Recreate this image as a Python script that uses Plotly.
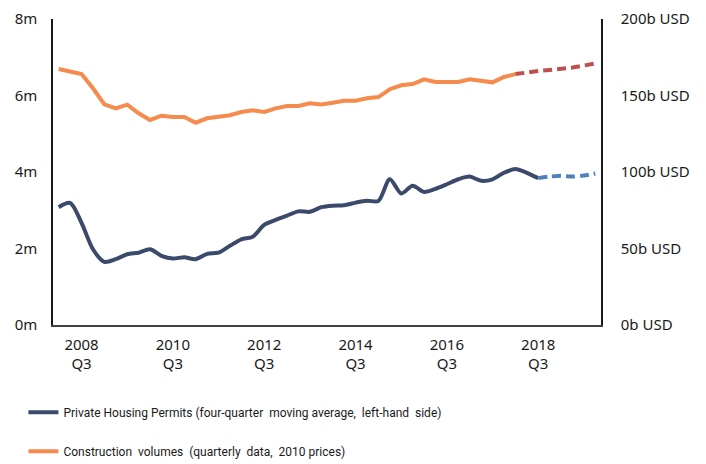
import plotly.graph_objects as go

# quarters 2008 Q1 .. 2019 Q4
quarters = [f"{y} Q{q}" for y in range(2008, 2020) for q in range(1, 5)]
tick_vals = [f"{y} Q3" for y in range(2008, 2019, 2)]
tick_text = [f"{y}<br>Q3" for y in range(2008, 2019, 2)]

# private housing permits, m (four-quarter moving average)
permits = [3.08, 3.19, 2.67, 1.98, 1.65, 1.72, 1.85, 1.89, 1.98, 1.81,
           1.74, 1.77, 1.72, 1.86, 1.89, 2.07, 2.24, 2.31, 2.62, 2.75,
           2.86, 2.97, 2.96, 3.08, 3.12, 3.13, 3.20, 3.25, 3.24, 3.81,
           3.44, 3.64, 3.48, 3.56, 3.68, 3.81, 3.88, 3.77, 3.81, 3.98,
           4.08, 3.98, 3.84]
permits_fc = [3.84, 3.88, 3.90, 3.88, 3.91, 3.96]

# construction volumes, b USD (2010 prices)
construction = [167.3, 165.7, 164.0, 154.7, 144.2, 141.6, 144.0, 138.4, 134.0, 136.8,
                136.0, 136.0, 132.2, 135.1, 136.0, 137.1, 139.2, 140.3, 139.2, 141.6,
                143.1, 143.1, 144.9, 144.2, 145.3, 146.6, 146.6, 148.2, 149.0, 154.1,
                156.7, 157.5, 160.6, 158.8, 158.8, 158.8, 160.6, 159.5, 158.6, 162.1,
                164.0]
construction_fc = [164.0, 165.2, 166.0, 166.7, 167.3, 168.3, 169.6, 170.9]

NAVY = "#3b4a6b"
ORANGE = "#f58b4c"
FONT = "Noto Sans"

fig = go.Figure()

fig.add_trace(go.Scatter(
    x=quarters[:len(permits)], y=permits, mode="lines",
    line=dict(color=NAVY, width=4, shape="spline", smoothing=0.8),
    name="Private Housing Permits (four-quarter  moving average,  left-hand  side)",
    legendgroup="a",
))
fig.add_trace(go.Scatter(
    x=quarters[len(permits) - 1:], y=permits_fc, mode="lines",
    line=dict(color="#4f81bd", width=4, dash="9px,5px", shape="spline", smoothing=0.8),
    showlegend=False,
))
fig.add_trace(go.Scatter(
    x=quarters[:len(construction)], y=construction, mode="lines", yaxis="y2",
    line=dict(color=ORANGE, width=4),
    name="Construction  volumes  (quarterly  data,  2010 prices)",
    legendgroup="b",
))
fig.add_trace(go.Scatter(
    x=quarters[len(construction) - 1:], y=construction_fc, mode="lines", yaxis="y2",
    line=dict(color="#c0504d", width=4, dash="9px,5px"),
    showlegend=False,
))

# page body has an 8px margin, so the figure is sized to fit the window
fig.update_layout(
    width=698, height=456,
    margin=dict(l=45, r=105, t=11, b=139, autoexpand=False),
    paper_bgcolor="white", plot_bgcolor="white",
    font=dict(family=FONT, size=15, color="#1a1a1a"),
    showlegend=True,
    legend=dict(
        x=-0.054, xanchor="left", y=-0.238, yanchor="top",
        traceorder="grouped", tracegroupgap=20,
        font=dict(family="Roboto", size=12),
        itemwidth=30,
    ),
    xaxis=dict(
        type="category", categoryorder="array", categoryarray=quarters,
        range=[-0.5, len(quarters) - 0.5],
        tickmode="array", tickvals=tick_vals, ticktext=tick_text,
        showline=True, linecolor="#404040", linewidth=1.5,
        showgrid=False, ticks="", ticklabelstandoff=5, automargin=False,
    ),
    yaxis=dict(
        range=[0, 8], tickvals=[0, 2, 4, 6, 8],
        ticktext=["0m", "2m", "4m", "6m", "8m"],
        showline=True, linecolor="#1a1a1a", linewidth=1.5,
        showgrid=False, zeroline=False, ticks="", ticklabelstandoff=11,
        automargin=False,
    ),
    yaxis2=dict(
        range=[0, 200], tickvals=[0, 50, 100, 150, 200],
        ticktext=["0b USD", "50b USD", "100b USD", "150b USD", "200b USD"],
        overlaying="y", side="right",
        showline=True, linecolor="#1a1a1a", linewidth=1.5,
        showgrid=False, zeroline=False, ticks="", ticklabelstandoff=15,
        automargin=False,
    ),
)

fig.write_html("out.html")
